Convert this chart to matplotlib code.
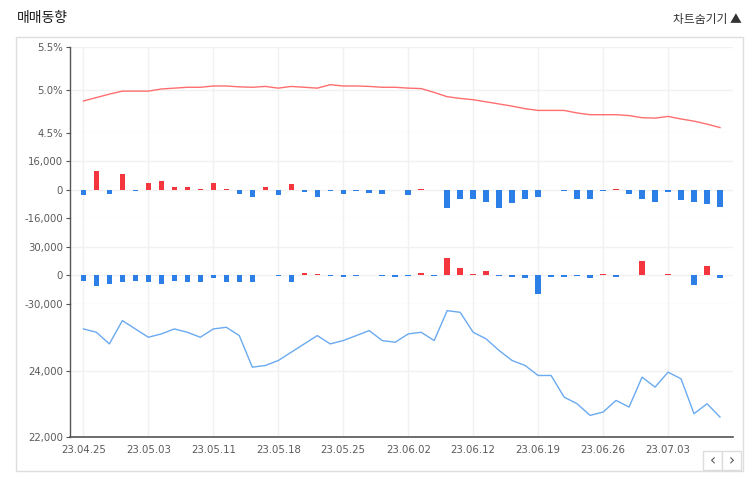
import matplotlib
matplotlib.use("Agg")
import matplotlib.pyplot as plt
from matplotlib.patches import Rectangle
from matplotlib.ticker import FuncFormatter

plt.rcParams['font.family'] = ['Noto Sans CJK KR', 'DejaVu Sans']

dates = ["23.04.25", "23.04.26", "23.04.27", "23.04.28", "23.05.02", "23.05.03", "23.05.04", "23.05.08",
         "23.05.09", "23.05.10", "23.05.11", "23.05.12", "23.05.15", "23.05.16", "23.05.17", "23.05.18",
         "23.05.19", "23.05.22", "23.05.23", "23.05.24", "23.05.25", "23.05.26", "23.05.30", "23.05.31",
         "23.06.01", "23.06.02", "23.06.05", "23.06.07", "23.06.08", "23.06.09", "23.06.12", "23.06.13",
         "23.06.14", "23.06.15", "23.06.16", "23.06.19", "23.06.20", "23.06.21", "23.06.22", "23.06.23",
         "23.06.26", "23.06.27", "23.06.28", "23.06.29", "23.06.30", "23.07.03", "23.07.04", "23.07.05",
         "23.07.06", "23.07.07"]

ratio = [4.87, 4.91, 4.95, 4.985, 4.985, 4.985, 5.01, 5.02, 5.03, 5.03,
         5.045, 5.045, 5.035, 5.03, 5.04, 5.02, 5.04, 5.03, 5.02, 5.06,
         5.045, 5.045, 5.04, 5.03, 5.03, 5.02, 5.015, 4.97, 4.92, 4.90,
         4.885, 4.86, 4.835, 4.81, 4.78, 4.76, 4.76, 4.76, 4.73, 4.71,
         4.71, 4.71, 4.70, 4.675, 4.67, 4.69, 4.66, 4.635, 4.60, 4.56]

foreign = [-3200, 10300, -2300, 8800, -500, 3600, 4700, 1700, 1700, 500,
           3600, 400, -2300, -3800, 1700, -2800, 3200, -1300, -3800, -500,
           -2300, -600, -1700, -2300, 0, -2800, 300, 0, -10000, -5300,
           -5300, -6600, -10000, -7500, -5300, -4300, -300, -700, -5100, -5300,
           -700, 300, -2400, -5300, -6600, -1500, -5800, -6600, -7900, -9400]

institution = [-5400, -10800, -9000, -7200, -5400, -6500, -9000, -5400, -6500, -6500,
               -3200, -6500, -6500, -7200, 0, -400, -6500, 2500, 1500, -500,
               -2000, -500, 0, -500, -1200, -500, 2500, -500, 18000, 7600,
               1800, 4700, -400, -1200, -2900, -19500, -2000, -1200, -500, -2900,
               1000, -1200, 0, 15000, 800, 1500, 0, -10100, 9400, -3200]

price = [25250, 25150, 24800, 25500, 25250, 25000, 25100, 25250, 25150, 25000,
         25250, 25300, 25050, 24100, 24150, 24300, 24550, 24800, 25050, 24800,
         24900, 25050, 25200, 24900, 24850, 25100, 25150, 24900, 25800, 25750,
         25150, 24950, 24600, 24300, 24150, 23850, 23850, 23200, 23000, 22650,
         22750, 23100, 22900, 23800, 23500, 23950, 23750, 22700, 23000, 22600]

label_idx = [0, 5, 10, 15, 20, 25, 30, 35, 40, 45]

W, H = 754, 484
fig = plt.figure(figsize=(W / 100, H / 100), dpi=100)

RED_LINE = "#ff6e6e"
BLUE_LINE = "#6aaaf0"
RED_BAR = "#f5363f"
BLUE_BAR = "#2c7fe6"
GRID = "#f1f1f1"
AXC = "#555555"
TXT = "#5a5a5a"
NUMFONT = ["DejaVu Sans"]

# outer frame
fig.patches.append(Rectangle((16 / W, 1 - 471 / H), (743 - 16) / W, (471 - 37) / H,
                             transform=fig.transFigure, fill=False, edgecolor="#dddddd", lw=1))
fig.text(17 / W, 1 - 18 / H, "매매동향", fontsize=10, color="#1a1a1a", va="center", ha="left",
         fontweight="medium")
fig.text(742 / W, 1 - 20 / H, "차트숨기기 ▲", fontsize=8.5, color="#333333", va="center", ha="right")

left, right = 70, 733
xl = (-1.03, 50.0)

panels = [(47, 132.7), (132.7, 218.3), (218.3, 304), (304, 437)]

def make_ax(top, bottom):
    ax = fig.add_axes([left / W, 1 - bottom / H, (right - left) / W, (bottom - top) / H])
    ax.set_xlim(*xl)
    ax.patch.set_alpha(0)
    for s in ["top", "right", "bottom"]:
        ax.spines[s].set_visible(False)
    ax.spines["left"].set_color(AXC)
    ax.spines["left"].set_linewidth(1)
    ax.tick_params(axis="y", length=3, width=0.8, color=AXC, labelsize=7.3, labelcolor=TXT, pad=2)
    ax.tick_params(axis="x", length=0, labelbottom=False)
    ax.set_xticks(label_idx)
    ax.grid(True, color=GRID, lw=1)
    ax.set_axisbelow(True)
    return ax

def style_labels(ax):
    for lab in ax.get_yticklabels() + ax.get_xticklabels():
        lab.set_family(NUMFONT)

x = list(range(len(dates)))

# panel 1: ratio line
ax1 = make_ax(*panels[0])
ax1.plot(x, ratio, color=RED_LINE, lw=1)
ax1.set_ylim(4.5, 5.5)
ax1.set_yticks([4.5, 5.0, 5.5])
ax1.yaxis.set_major_formatter(FuncFormatter(lambda v, p: f"{v:.1f}%"))

comma = FuncFormatter(lambda v, p: f"{int(v):,}".replace("\u2212", "-"))

# panel 2: foreign bars
ax2 = make_ax(*panels[1])
ax2.bar(x, foreign, width=0.42, color=[RED_BAR if v > 0 else BLUE_BAR for v in foreign])
ax2.set_ylim(-16000, 32000)
ax2.set_yticks([-16000, 0, 16000])
ax2.yaxis.set_major_formatter(comma)

# panel 3: institution bars
ax3 = make_ax(*panels[2])
ax3.bar(x, institution, width=0.42, color=[RED_BAR if v > 0 else BLUE_BAR for v in institution])
ax3.set_ylim(-30000, 60000)
ax3.set_yticks([-30000, 0, 30000])
ax3.yaxis.set_major_formatter(comma)

# panel 4: price line
ax4 = make_ax(*panels[3])
ax4.plot(x, price, color=BLUE_LINE, lw=1)
ax4.set_ylim(22000, 26000)
ax4.set_yticks([22000, 24000])
ax4.yaxis.set_major_formatter(comma)
ax4.spines["bottom"].set_visible(True)
ax4.spines["bottom"].set_color(AXC)
ax4.spines["bottom"].set_linewidth(1.2)
ax4.tick_params(axis="x", labelbottom=True, labelsize=7.3, labelcolor=TXT, pad=6)
ax4.set_xticks(label_idx)
ax4.set_xticklabels([dates[i] for i in label_idx])

for ax in (ax1, ax2, ax3, ax4):
    style_labels(ax)

# nav buttons
for bx, ch in ((703, "‹"), (722, "›")):
    fig.patches.append(Rectangle((bx / W, 1 - 470 / H), 19 / W, 19 / H, transform=fig.transFigure,
                                 facecolor="white", edgecolor="#dddddd", lw=1))
    fig.text((bx + 9.5) / W, 1 - 460.5 / H, ch, fontsize=11, color="#555555", ha="center", va="center",
             family=["DejaVu Sans"])

fig.savefig("out.png", dpi=100)
